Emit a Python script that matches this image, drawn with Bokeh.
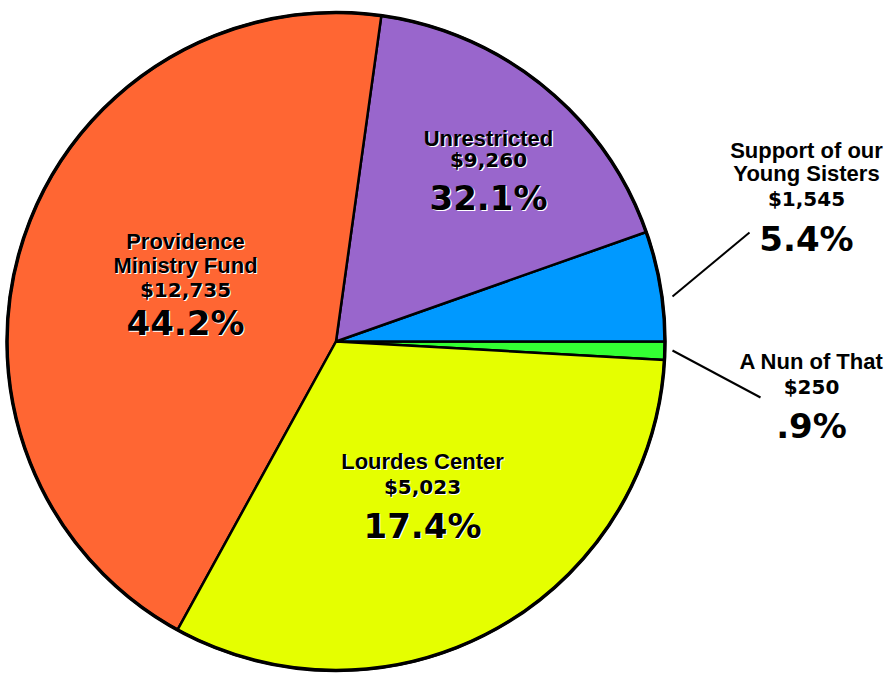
import math
from bokeh.plotting import figure
from bokeh.models import Range1d, ColumnDataSource
from bokeh.core.properties import value
from bokeh.embed import file_html
from bokeh.resources import INLINE

# ---- data (counter-clockwise order starting just below 3 o'clock) ----
categories = ["A Nun of That", "Support of our Young Sisters", "Unrestricted",
              "Providence Ministry Fund", "Lourdes Center"]
amounts = ["$250", "$1,545", "$9,260", "$12,735", "$5,023"]
percent_labels = [".9%", "5.4%", "32.1%", "44.2%", "17.4%"]
# slice sizes (%) as drawn in the source chart (purple & yellow wedges are
# drawn with each other's share there)
drawn_share = [0.9, 5.4, 17.4, 44.2, 32.1]
colors = ["#33FF33", "#0099FF", "#9966CC", "#FF6633", "#E5FF00"]

# ---- layout (image pixel coordinates, y measured downward) ----
W, H = 885, 674
OFF = 0
IMG_H = 674
cx, cy_img, R = 335.5, 341, 329


def Y(y_img):
    return IMG_H - y_img


p = figure(width=W, height=H, output_backend="svg", toolbar_location=None,
           x_range=Range1d(OFF, OFF + W), y_range=Range1d(IMG_H - OFF - H, IMG_H - OFF),
           min_border=0)
p.outline_line_color = None
p.axis.visible = False
p.grid.visible = False
p.background_fill_color = "white"
p.border_fill_color = "white"

start = -drawn_share[0] * 3.6
starts, ends = [], []
a = start
for s in drawn_share:
    starts.append(math.radians(a))
    a += s * 3.6
    ends.append(math.radians(a))

src = ColumnDataSource(dict(x=[cx] * 5, y=[Y(cy_img)] * 5, start=starts, end=ends,
                            color=colors, cat=categories))
p.wedge(x="x", y="y", radius=R, start_angle="start", end_angle="end",
        fill_color="color", line_color="black", line_width=2.5, source=src)
p.circle(x=[cx], y=[Y(cy_img)], radius=R, fill_color=None, line_color="black",
         line_width=3.5)

# leader lines for the two small slices
p.segment(x0=[672, 672], y0=[Y(296), Y(350)], x1=[749, 760], y1=[Y(232), Y(397)],
          line_color="black", line_width=2)

WORD_FONT = value("Liberation Sans")
NUM_FONT = value("DejaVu Sans")


def label(x, y, txt, font, size, shadow):
    if shadow:
        p.text(x=[x + 1.2], y=[Y(y) - 1.2], text=[txt], text_font=font,
               text_font_size=size, text_font_style="bold", text_color="white",
               text_align="center", text_baseline="alphabetic")
    p.text(x=[x], y=[Y(y)], text=[txt], text_font=font, text_font_size=size,
           text_font_style="bold", text_color="black", text_align="center",
           text_baseline="alphabetic")


# inside labels: (center x, [word lines baselines], amount baseline, pct baseline)
inside = {
    "Providence Ministry Fund": (185, [("Providence", 241), ("Ministry Fund", 265)], 289, 322),
    "Unrestricted": (488, [("Unrestricted", 138)], 159, 197),
    "Lourdes Center": (422, [("Lourdes Center", 461)], 486, 525),
}
outside = {
    "Support of our Young Sisters": (806, [("Support of our", 150), ("Young Sisters", 173)], 198, 238),
    "A Nun of That": (811, [("A Nun of That", 361)], 386, 425),
}

for i, cat in enumerate(categories):
    if cat in inside:
        xc, lines, ya, yp = inside[cat]
        sh = True
    else:
        xc, lines, ya, yp = outside[cat]
        sh = False
    for t, yb in lines:
        label(xc, yb, t, WORD_FONT, "22px", sh)
    label(xc, ya, amounts[i], NUM_FONT, "20px", sh)
    label(xc, yp, percent_labels[i], NUM_FONT, "34px", sh)

open("out.html", "w").write(file_html(p, INLINE))
